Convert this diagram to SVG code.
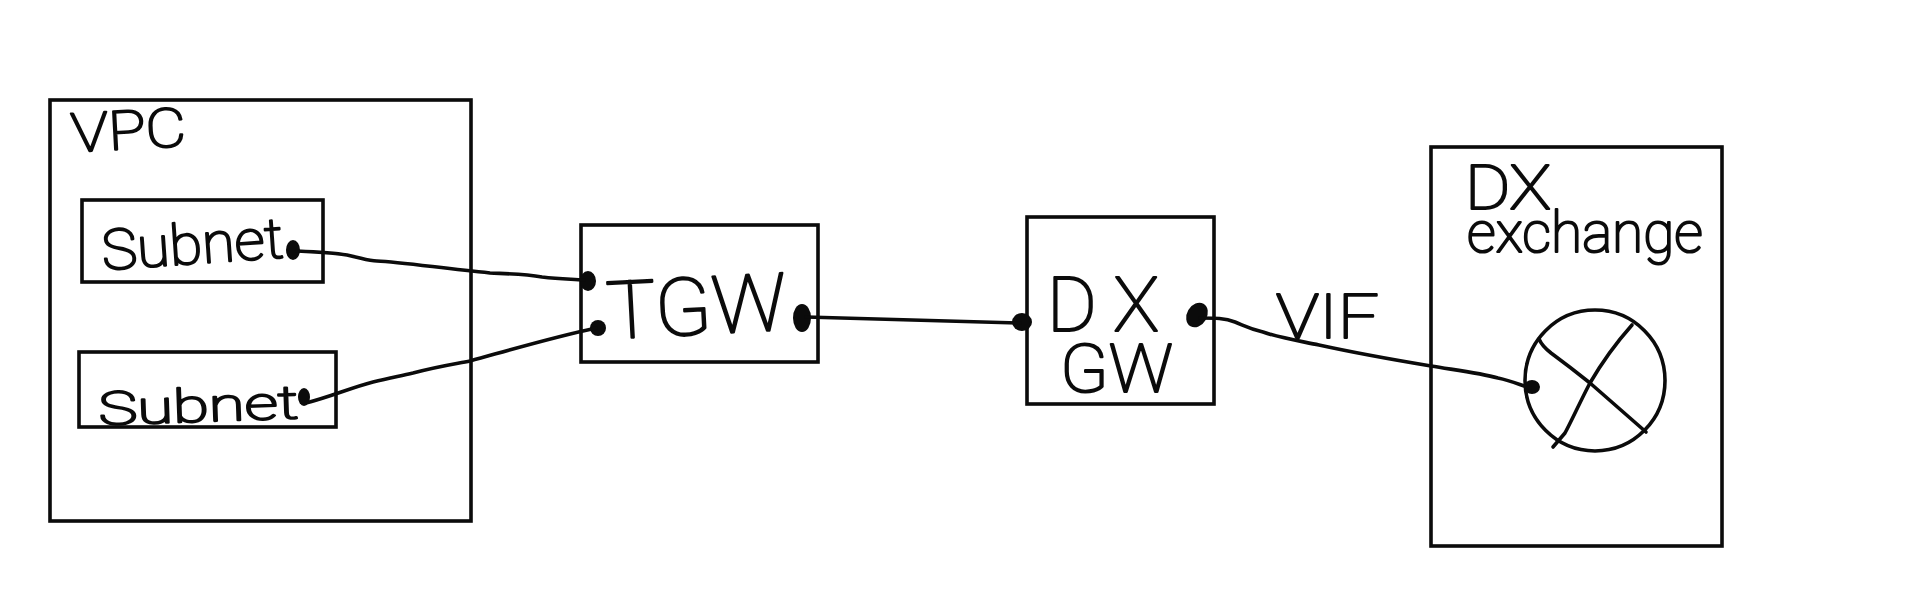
<svg xmlns="http://www.w3.org/2000/svg" width="1905" height="601" viewBox="0 0 1905 601">
  <style>
    .box { fill: none; stroke: #0b0b0b; stroke-width: 3.6; stroke-linejoin: miter; }
    .wire { fill: none; stroke: #0b0b0b; stroke-width: 3.6; stroke-linecap: round; stroke-linejoin: round; }
    .dot { fill: #0b0b0b; }
    text { font-family: Roboto, "Open Sans", "Liberation Sans", sans-serif; font-weight: 100; fill: #0b0b0b; stroke: #0b0b0b; stroke-width: 2.2; stroke-linejoin: round; }
  </style>
  <rect width="1905" height="601" fill="#ffffff"/>

  <g id="vpc">
    <rect class="box" x="50" y="100" width="421" height="421"/>
    <text x="72" y="152" font-size="54" textLength="115" lengthAdjust="spacingAndGlyphs" transform="rotate(-3 72 152)">VPC</text>
  </g>
  <g id="subnet-a">
    <rect class="box" x="82" y="200" width="241" height="82"/>
    <text x="103" y="270" font-size="56" textLength="182" lengthAdjust="spacingAndGlyphs" transform="rotate(-4 103 270)">Subnet</text>
    <ellipse class="dot" cx="293" cy="250" rx="7" ry="10"/>
  </g>
  <g id="subnet-b">
    <rect class="box" x="79" y="352" width="257" height="75"/>
    <text x="99" y="425" font-size="46" textLength="200" lengthAdjust="spacingAndGlyphs" transform="rotate(-2 99 425)">Subnet</text>
    <ellipse class="dot" cx="304" cy="397" rx="6" ry="9"/>
  </g>
  <g id="tgw">
    <rect class="box" x="581" y="225" width="237" height="137"/>
    <text x="608" y="339" font-size="80" textLength="180" lengthAdjust="spacingAndGlyphs" transform="rotate(-3 608 339)">TGW</text>
    <ellipse class="dot" cx="588" cy="281" rx="8" ry="10"/>
    <ellipse class="dot" cx="598" cy="328" rx="8" ry="8"/>
    <ellipse class="dot" cx="802" cy="318" rx="9" ry="14"/>
  </g>
  <g id="dx-gateway">
    <rect class="box" x="1027" y="217" width="187" height="187"/>
    <text x="1047" y="331" font-size="76" textLength="112">DX</text>
    <text x="1060" y="392" font-size="66" textLength="113" lengthAdjust="spacingAndGlyphs">GW</text>
    <ellipse class="dot" cx="1022" cy="322" rx="10" ry="9"/>
    <ellipse class="dot" cx="1197" cy="315" rx="10" ry="13" transform="rotate(30 1197 315)"/>
  </g>
  <g id="dx-exchange">
    <rect class="box" x="1431" y="147" width="291" height="399"/>
    <text x="1465" y="209" font-size="62" textLength="86" lengthAdjust="spacingAndGlyphs">DX</text>
    <text x="1467" y="252" font-size="58" textLength="236" lengthAdjust="spacingAndGlyphs">exchange</text>
    <ellipse class="box" cx="1595" cy="380.5" rx="70" ry="70.5"/>
    <path class="wire" d="M1539 339 Q1542 346 1551 353 Q1570 367 1590 383 L1646 432"/>
    <path class="wire" d="M1632 325 Q1608 352 1590 383 C1580 402 1572 420 1565 433 L1553 447"/>
    <ellipse class="dot" cx="1532" cy="387" rx="8" ry="7"/>
  </g>

  <g id="vif-label">
    <text x="1276" y="338" font-size="62" textLength="103" lengthAdjust="spacingAndGlyphs">VIF</text>
  </g>

  <g id="connectors">
    <path class="wire" d="M297 251 C320 252 335 253 347 255 C362 258 368 261 377 261 C400 262 440 268 490 273 C515 274 525 274 542 277 C560 279 570 279 584 280"/>
    <path class="wire" d="M306 403 C330 397 350 388 373 382 C390 378 400 376 413 373 C440 366 455 364 470 361 C510 350 550 338 596 328"/>
    <path class="wire" d="M806 317 L1020 323"/>
    <path class="wire" d="M1200 318 C1215 318 1225 318 1235 322 C1245 326 1250 329 1263 332 C1280 338 1300 341 1319 345 C1360 354 1395 360 1431 366 C1455 370 1480 373 1498 378 C1512 381 1520 385 1530 388"/>
  </g>
</svg>
